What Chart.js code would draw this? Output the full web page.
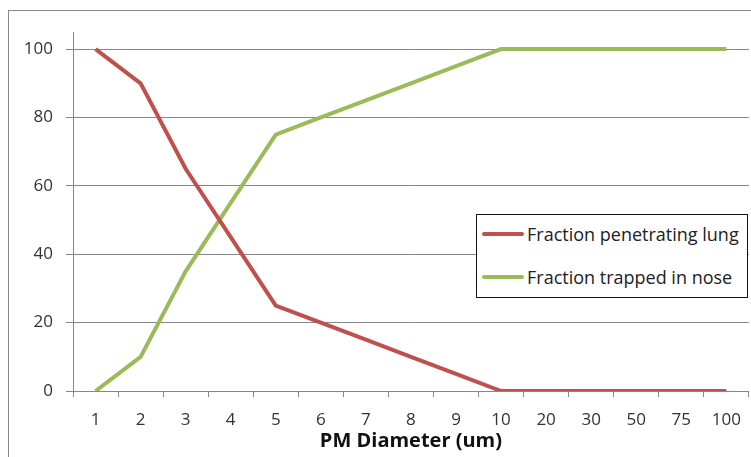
<!DOCTYPE html>
<html>
<head>
<meta charset="utf-8">
<title>PM Diameter</title>
<script src="https://cdn.jsdelivr.net/npm/chart.js@4.4.1/dist/chart.umd.min.js"></script>
<style>
  body { margin: 0; overflow: hidden; background: #fff; font-family: "Open Sans", sans-serif; }
  #frame { position: absolute; left: 8px; top: 10px; width: 820px; height: 520px; border: 1px solid #8a8a8a; }
  #wrap { position: absolute; left: 0; top: 0; width: 754px; height: 457px; }
  #legend { position: absolute; left: 476px; top: 214px; width: 270px; height: 82px;
            border: 1px solid #111; background: #fff; }
  .item { position: absolute; left: 5px; height: 22px; display: flex; align-items: center;
          font-size: 18px; color: #222; white-space: nowrap; }
  .swatch { width: 42px; height: 4px; border-radius: 2px; margin-right: 3px; }
</style>
</head>
<body>
<div id="frame"></div>
<div id="wrap"><canvas id="chart" width="754" height="457"></canvas></div>
<div id="legend"></div>

<script>
// particle diameter categories (um)
const xLabels = ['1', '2', '3', '4', '5', '6', '7', '8', '9', '10', '20', '30', '50', '75', '100'];

// percent of particles
const lungFraction = [100, 90, 65, 45, 25, 20, 15, 10, 5, 0, 0, 0, 0, 0, 0];
const noseFraction = [0, 10, 35, 55, 75, 80, 85, 90, 95, 100, 100, 100, 100, 100, 100];

const yTicks = [0, 20, 40, 60, 80, 100];

const gridColor = '#878787';

const chart = new Chart(document.getElementById('chart'), {
  type: 'line',
  data: {
    labels: xLabels,
    datasets: [
      {
        label: 'Fraction penetrating lung',
        data: lungFraction,
        borderColor: '#c0504d',
        borderWidth: 4,
        pointRadius: 0,
        tension: 0
      },
      {
        label: 'Fraction trapped in nose',
        data: noseFraction,
        borderColor: '#9bbb59',
        borderWidth: 4,
        pointRadius: 0,
        tension: 0
      }
    ]
  },
  options: {
    responsive: false,
    animation: false,
    devicePixelRatio: 1,
    layout: { padding: { top: 32, left: 0, right: 2, bottom: 0 } },
    plugins: {
      legend: { display: false },
      tooltip: { enabled: false }
    },
    scales: {
      x: {
        type: 'category',
        offset: true,
        afterFit: function(scale) { scale.height = 66; },
        grid: {
          offset: true,
          drawOnChartArea: false,
          drawTicks: true,
          tickLength: 6,
          color: gridColor
        },
        border: { color: gridColor, width: 1 },
        ticks: {
          autoSkip: false,
          maxRotation: 0,
          padding: 13,
          color: '#333',
          font: { family: 'Open Sans', size: 17 }
        },
        title: {
          display: true,
          text: 'PM Diameter (um)',
          color: '#111',
          padding: { top: 0, bottom: 4 },
          font: { family: 'Open Sans', size: 20, weight: 'bold' }
        }
      },
      y: {
        min: 0,
        max: 105,
        afterFit: function(scale) { scale.width = 73; },
        afterBuildTicks: function(scale) {
          scale.ticks = yTicks.map(v => ({ value: v }));
        },
        grid: {
          color: gridColor,
          drawTicks: true,
          tickLength: 7
        },
        border: { color: gridColor, width: 1 },
        ticks: {
          padding: 13,
          color: '#333',
          font: { family: 'Open Sans', size: 17 }
        }
      }
    }
  }
});

// legend box built from the datasets
const legendBox = document.getElementById('legend');
chart.data.datasets.forEach((ds, i) => {
  const row = document.createElement('div');
  row.className = 'item';
  row.style.top = (8 + i * 43) + 'px';
  row.innerHTML = '<span class="swatch" style="background:' + ds.borderColor + '"></span>' + ds.label;
  legendBox.appendChild(row);
});
</script>
</body>
</html>
